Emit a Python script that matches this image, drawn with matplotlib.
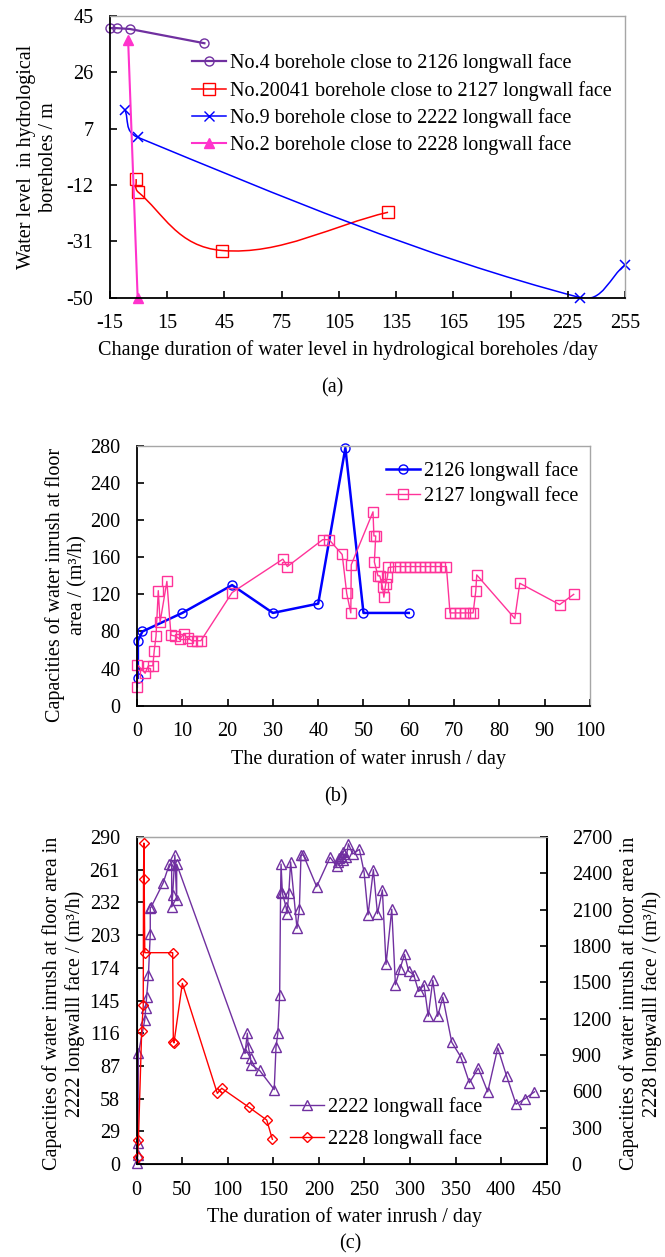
import numpy as np
import matplotlib
matplotlib.use('Agg')
import matplotlib.pyplot as plt
from matplotlib.path import Path
from matplotlib.patches import PathPatch
from matplotlib.lines import Line2D

plt.rcParams['font.family'] = ['Liberation Serif', 'DejaVu Serif']
plt.rcParams['font.size'] = 14.5
plt.rcParams['axes.unicode_minus'] = False

# ---- (a) water level in boreholes ----
no4_day = [-15, -11.5, -4.5, 34.5]
no4_lvl = [40.9, 40.9, 40.6, 35.8]
no20041_day = [-1.3, -0.2, 43.8, 130.8]
no20041_lvl = [-10.0, -14.4, -34.1, -21.2]
no9_day = [-7.2, -0.5, 231.6, 255]
no9_lvl = [13.3, 4.1, -50.0, -39.0]
no2_day = [-5.5, -0.5]
no2_lvl = [37.0, -50.0]

# ---- (b) 2126 / 2127 longwall faces ----
f2126_day = [0.2, 0.2, 1.2, 10, 21, 30, 40, 46, 50, 60]
f2126_q = [30, 70, 80, 100, 130, 100, 110, 278, 100, 100]
f2127_day = [0.1, 0.1, 1.8, 2.5, 3.5, 3.8, 4.2, 4.7, 5.1, 6.6, 7.5, 8.5, 9.4, 10.3,
             11.2, 12.1, 13.2, 14.1, 21, 32.2, 33.2, 41, 42.4, 45.3, 46.3, 47.2,
             47.3, 52.1, 52.3, 52.7, 52.4, 53.2, 53.6, 54.2, 54.5, 54.9, 55.3, 55.5,
             57, 58, 59.1, 60.2, 61.3, 62.4, 63.5, 64.7, 65.8, 66.9, 68.3,
             69.1, 70.2, 71.3, 72.4, 73.5, 74.2, 74.8, 75, 83.4, 84.5, 93.3, 96.4]
f2127_q = [20, 44, 35, 43, 43, 59, 75, 124, 90, 134, 76, 75, 72, 77,
           73, 70, 70, 70, 122, 158, 150, 179, 179, 163, 121, 100,
           152, 209, 183, 183, 155, 140, 140, 128, 117, 131, 139, 149,
           150, 150, 150, 150, 150, 150, 150, 150, 150, 150, 150,
           100, 100, 100, 100, 100, 100, 124, 141, 94, 132, 109, 120]

# ---- (c) 2222 / 2228 longwall faces ----
f2222_day = [0.5, 1, 1.5, 2, 9, 10, 11, 13, 15, 15, 16, 29, 36, 38.5, 38.5, 39.6,
             42, 44, 44, 119, 121.5, 122.6, 125, 126, 135, 151, 153, 155, 157,
             158, 158.5, 160, 164, 165, 167, 169, 176, 178.6, 180.4, 183, 197.6,
             212.3, 219.6, 220.5, 222, 224, 226, 227, 228, 230, 232.4, 237, 244.5,
             249.6, 254, 259.8, 264.3, 269.7, 273.7, 280, 284, 289, 294, 298.5,
             304, 309.5, 315.4, 320, 325, 330.4, 336, 345.8, 355.7, 365.2, 375,
             385.3, 396.3, 406, 416.4, 426.3, 436.6]
f2222_q = [1, 8, 19, 98, 128, 138, 148, 168, 204, 227, 228, 249, 266, 265, 228, 239,
           274, 234, 266, 98, 116, 104, 94, 88, 83, 66, 104, 116, 150,
           241, 266, 240, 228, 222, 240, 268, 209, 226, 274, 274, 246,
           272, 264, 268, 271, 273, 277, 270, 275, 272, 284, 275, 279,
           259, 221, 261, 222, 243, 177, 226, 159, 173, 186, 171,
           168, 153, 159, 131, 163, 131, 148, 108, 95, 72, 85,
           64, 103, 78, 53, 58, 64]
f2228_day = [1, 2, 5.6, 7.3, 7.6, 8, 9, 39.6, 40.3, 41, 50.2, 88.6, 93.4, 123.4, 142.8, 149]
f2228_q = [60, 200, 1100, 1310, 2350, 2650, 1745, 1745, 1010, 1000, 1492, 583, 625, 468, 363, 204]

PURPLE = '#7030A0'
RED = '#FF0000'
BLUE = '#0000FF'
MAGENTA = '#FF33CC'
PINK = '#FF3399'
GREY = '#A6A6A6'


def style(ax, right_black=False):
    for s in ['left', 'bottom']:
        ax.spines[s].set_color('black')
        ax.spines[s].set_linewidth(1.3)
    ax.spines['top'].set_color(GREY)
    ax.spines['top'].set_linewidth(1.0)
    if right_black:
        ax.spines['right'].set_color('black')
        ax.spines['right'].set_linewidth(1.3)
    else:
        ax.spines['right'].set_color(GREY)
        ax.spines['right'].set_linewidth(1.0)
    ax.tick_params(axis='both', direction='in', length=5, width=1.2)
    ax.tick_params(axis='x', pad=12)
    ax.tick_params(axis='y', pad=12)


def smooth_line(ax, xs, ys, color, lw):
    # Excel style smoothed line: cubic Bezier through every point
    xr = ax.get_xlim()
    yr = ax.get_ylim()
    sx = xr[1] - xr[0]
    sy = yr[1] - yr[0]
    pts = np.column_stack([(np.array(xs) - xr[0]) / sx, (np.array(ys) - yr[0]) / sy])
    n = len(pts)
    verts = [pts[0]]
    codes = [Path.MOVETO]
    for i in range(n - 1):
        p0 = pts[i - 1] if i > 0 else pts[i]
        p1 = pts[i]
        p2 = pts[i + 1]
        p3 = pts[i + 2] if i + 2 < n else pts[i + 1]
        seg = np.linalg.norm(p2 - p1)
        t1 = (p2 - p0) / np.linalg.norm(p2 - p0)
        t2 = (p3 - p1) / np.linalg.norm(p3 - p1)
        verts += [p1 + t1 * seg / 3, p2 - t2 * seg / 3, p2]
        codes += [Path.CURVE4] * 3
    verts = np.array(verts)
    verts[:, 0] = verts[:, 0] * sx + xr[0]
    verts[:, 1] = verts[:, 1] * sy + yr[0]
    ax.add_patch(PathPatch(Path(verts, codes), fill=False, edgecolor=color, lw=lw))


fig = plt.figure(figsize=(6.65, 12.57), dpi=100)

# ================= (a) =================
ax = fig.add_axes([0.1654, 0.7632, 0.7744, 0.2241])
ax.set_xlim(-15, 255)
ax.set_ylim(-50, 45)
ax.set_xticks(np.arange(-15, 256, 30))
ax.set_yticks(np.arange(-50, 46, 19))
style(ax)

ax.plot(no4_day, no4_lvl, color=PURPLE, lw=1.6, marker='o', ms=6.5, mfc='none',
        mec=PURPLE, mew=1.0, clip_on=False)
smooth_line(ax, no20041_day, no20041_lvl, RED, 1.1)
ax.plot(no20041_day, no20041_lvl, ls='none', marker='s', ms=8.5, mfc='none', mec=RED, mew=1.0)
smooth_line(ax, no9_day, no9_lvl, BLUE, 1.1)
ax.plot(no9_day, no9_lvl, ls='none', marker='x', ms=7, mec=BLUE, mew=1.1, clip_on=False)
ax.plot(no2_day, no2_lvl, color=MAGENTA, lw=1.5, marker='^', ms=7.5, mfc=MAGENTA,
        mec=MAGENTA, clip_on=False)

handles_a = [
    Line2D([], [], color=PURPLE, lw=1.6, marker='o', ms=6.5, mfc='none', mec=PURPLE),
    Line2D([], [], color=RED, lw=1.1, marker='s', ms=8.5, mfc='none', mec=RED),
    Line2D([], [], color=BLUE, lw=1.1, marker='x', ms=7, mec=BLUE),
    Line2D([], [], color=MAGENTA, lw=1.5, marker='^', ms=7.5, mfc=MAGENTA, mec=MAGENTA),
]
labels_a = ['No.4 borehole close to 2126 longwall face',
            'No.20041 borehole close to 2127 longwall face',
            'No.9 borehole close to 2222 longwall face',
            'No.2 borehole close to 2228 longwall face']
ax.legend(handles_a, labels_a, loc='upper left', bbox_to_anchor=(192 / 665, 1 - 53.5 / 1257),
          bbox_transform=fig.transFigure, frameon=False, borderpad=0, borderaxespad=0,
          handlelength=1.7, handletextpad=0.2, labelspacing=0.37, fontsize=14.5)
ax.set_xlabel('Change duration of water level in hydrological boreholes /day')
ax.xaxis.set_label_coords(0.462, -0.149)
ax.xaxis.label.set_va('top')
ax.set_ylabel('Water level  in hydrological\nboreholes / m')
ax.yaxis.set_label_coords(-0.101, 0.5)
fig.text(0.5, 1 - 388 / 1257, '(a)', ha='center', va='center')

# ================= (b) =================
ax = fig.add_axes([0.206, 0.4386, 0.6812, 0.2066])
ax.set_xlim(0, 100)
ax.set_ylim(0, 280)
ax.set_xticks(np.arange(0, 101, 10))
ax.set_yticks(np.arange(0, 281, 40))
style(ax)
ax.plot(f2126_day, f2126_q, color=BLUE, lw=1.8, marker='o', ms=6.5, mfc='none',
        mec=BLUE, mew=1.0, label='2126 longwall face', clip_on=False)
ax.plot(f2127_day, f2127_q, color=PINK, lw=1.0, marker='s', ms=7.5, mfc='none',
        mec=PINK, mew=1.0, label='2127 longwall fece', clip_on=False)
ax.legend(loc='upper left', bbox_to_anchor=(386 / 665, 1 - 461 / 1257),
          bbox_transform=fig.transFigure, frameon=False, borderpad=0, borderaxespad=0,
          handlelength=1.7, handletextpad=0.2, labelspacing=0.26, fontsize=14.5)
ax.set_xlabel('The duration of water inrush / day')
ax.xaxis.set_label_coords(0.51, -0.167)
ax.xaxis.label.set_va('top')
ax.set_ylabel('Capacities of water inrush at floor\narea / (m³/h)')
ax.yaxis.set_label_coords(-0.110, 0.465)
fig.text(0.505, 1 - 797 / 1257, '(b)', ha='center', va='center')

# ================= (c) =================
ax = fig.add_axes([0.2054, 0.074, 0.6167, 0.2601])
ax.set_xlim(0, 450)
ax.set_ylim(0, 290)
ax.set_xticks(np.arange(0, 451, 50))
ax.set_yticks(np.arange(0, 291, 29))
style(ax, right_black=True)
ax2 = ax.twinx()
ax2.set_ylim(0, 2700)
ax2.set_yticks(np.arange(0, 2701, 300))
ax2.spines['right'].set_color('black')
ax2.spines['right'].set_linewidth(1.3)
ax2.spines['top'].set_color(GREY)
ax2.tick_params(axis='y', direction='in', length=5, width=1.2, pad=18)

ax.plot(f2222_day, f2222_q, color=PURPLE, lw=1.0, marker='^', ms=7.5, mfc='none',
        mec=PURPLE, mew=1.0, clip_on=False)
ax2.plot(f2228_day, f2228_q, color=RED, lw=1.0, marker='D', ms=5.5, mfc='none',
         mec=RED, mew=1.0, clip_on=False)
handles_c = [
    Line2D([], [], color=PURPLE, lw=1.0, marker='^', ms=7.5, mfc='none', mec=PURPLE),
    Line2D([], [], color=RED, lw=1.0, marker='D', ms=5.5, mfc='none', mec=RED),
]
ax2.legend(handles_c, ['2222 longwall face', '2228 longwall face'], loc='upper left',
           bbox_to_anchor=(290 / 665, 1 - 1097 / 1257), bbox_transform=fig.transFigure,
           frameon=False, borderpad=0, borderaxespad=0, handlelength=1.7,
           handletextpad=0.2, labelspacing=0.6, fontsize=14.5)
ax.set_xlabel('The duration of water inrush / day')
ax.xaxis.set_label_coords(0.508, -0.132)
ax.xaxis.label.set_va('top')
ax.set_ylabel('Capacities of water inrush at floor area in\n2222 longwalll face / (m³/h)')
ax.yaxis.set_label_coords(-0.126, 0.49)
ax2.set_ylabel('Capacities of water inrush at floor area in\n2228 longwalll face / (m³/h)')
ax2.yaxis.set_label_coords(1.177, 0.49)
fig.text(0.527, 1 - 1244 / 1257, '(c)', ha='center', va='center')

fig.savefig('out.png', dpi=100)
